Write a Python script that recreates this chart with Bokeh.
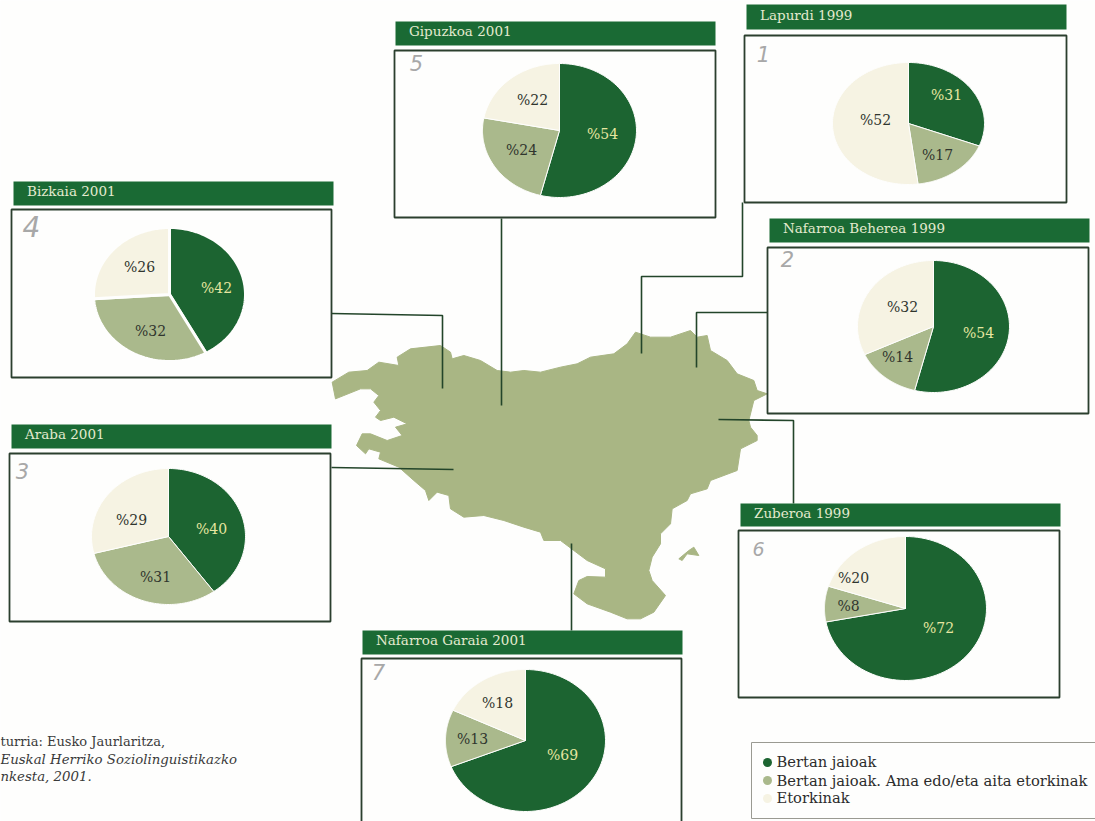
import numpy as np
from bokeh.embed import file_html
from bokeh.models import Range1d
from bokeh.plotting import figure
from bokeh.resources import INLINE
from bokeh.core.properties import value

# ---- data ----
regions = ["Gipuzkoa 2001", "Lapurdi 1999", "Bizkaia 2001", "Nafarroa Beherea 1999",
           "Araba 2001", "Zuberoa 1999", "Nafarroa Garaia 2001"]
native = [54, 31, 42, 54, 40, 72, 69]
mixed = [24, 17, 32, 14, 31, 8, 13]
migrant = [22, 52, 26, 32, 29, 20, 18]
hand_numbers = ["5", "1", "4", "2", "3", "6", "7"]
legend_labels = ["Bertan jaioak", "Bertan jaioak. Ama edo/eta aita etorkinak", "Etorkinak"]
source_lines = ["turria: Eusko Jaurlaritza,", "Euskal Herriko Soziolinguistikazko", "nkesta, 2001."]

# ---- layout (page pixel coordinates of the reference) ----
DARK, MID, PALE = "#1c6431", "#aab98c", "#f6f3e3"
MAP = "#a9b684"
HEAD = "#1a6a34"
LINE = "#23452a"

pie_c = [(559, 130, 77, 67), (908, 123, 76, 61), (169, 294, 76, 67), (933, 326, 76, 66),
         (168, 536, 77, 68), (905, 608, 81, 72), (525, 740, 80, 71)]
pie_gap = [1, 1, 3, 1, 1, 1, 1]
label_xy = [[(602, 133), (521, 149), (532, 99)],
            [(946, 94), (937, 154), (875, 119)],
            [(216, 287), (150, 330), (139, 266)],
            [(978, 332), (897, 356), (902, 306)],
            [(211, 528), (155, 576), (131, 519)],
            [(938, 627), (848, 605), (853, 577)],
            [(562, 754), (472, 738), (497, 702)]]
heads = [(395, 715, 21, 45), (746, 1066, 4, 29), (13, 333, 181, 205), (769, 1089, 218, 242),
         (11, 331, 424, 448), (740, 1060, 503, 526), (362, 682, 630, 654)]
boxes = [(394, 715, 50, 217), (744, 1066, 35, 202), (11, 331, 209, 377), (767, 1088, 247, 413),
         (9, 330, 453, 621), (738, 1059, 530, 697), (361, 681, 658, 840)]
hand_xy = [(416, 62), (763, 53), (31, 226), (787, 258), (22, 470), (758, 548), (378, 671)]
hand_size = ["21px", "21px", "28px", "21px", "21px", "19px", "21px"]
connectors = [[(501, 218), (501, 405)],
              [(742, 202), (742, 276), (641, 276), (641, 353)],
              [(767, 312), (696, 312), (696, 367)],
              [(331, 313), (442, 315), (442, 388)],
              [(331, 467), (453, 469)],
              [(718, 419), (793, 420), (793, 503)],
              [(571, 543), (571, 630)]]

map_zoom = [(35,185),(85,155),(140,150),(175,125),(235,135),(230,110),(270,85),(360,75),(390,95),(395,115),
            (430,105),(480,120),(530,150),(570,155),(610,150),(660,155),(720,140),(770,130),(810,110),(880,100),
            (920,70),(945,35),(990,50),(1050,50),(1110,30),(1130,50),(1160,45),(1170,90),(1220,120),(1250,160),
            (1300,180),(1310,210),(1340,220),(1300,240),(1285,300),(1290,320),(1310,345),(1310,360),(1260,385),
            (1250,450),(1170,480),(1160,505),(1110,520),(1100,540),(1055,565),(1050,610),(1020,640),(1020,670),
            (995,710),(985,750),(995,780),(1035,825),(1000,875),(960,895),(920,895),(870,875),(800,850),(760,820),
            (775,780),(800,768),(855,770),(855,745),(800,720),(760,690),(720,660),(670,660),(660,635),(610,620),
            (550,600),(490,585),(430,590),(390,565),(385,525),(350,515),(325,540),(315,510),(280,480),(235,440),
            (175,415),(180,395),(145,385),(135,400),(108,375),(125,340),(150,340),(200,360),(245,345),(225,320),
            (260,310),(220,290),(180,300),(165,290),(180,270),(160,245),(175,225),(150,205),(120,205),(70,225),(45,235)]
islet_zoom = [(1075,715),(1105,690),(1120,680),(1135,705),(1100,700),(1085,720)]

W, H = 1095, 821
p = figure(width=W, height=H, x_range=Range1d(0, W), y_range=Range1d(H, 0),
           output_backend="svg", toolbar_location=None, min_border=0)
p.axis.visible = False
p.grid.visible = False
p.outline_line_color = None
p.background_fill_color = "#fefefd"
p.border_fill_color = "#fefefd"

SERIF = value("DejaVu Serif")

# map
for shape in (map_zoom, islet_zoom):
    p.patch([320 + a / 3 for a, _ in shape], [320 + b / 3 for _, b in shape], fill_color=MAP, line_color=MAP)

# connectors
for c in connectors:
    p.line([a for a, _ in c], [b for _, b in c], line_color=LINE, line_width=1.6)

# panels
for name, (x0, x1, y0, y1), (bx0, bx1, by0, by1), hand, (hx, hy), hs in zip(
        regions, heads, boxes, hand_numbers, hand_xy, hand_size):
    p.quad(left=bx0, right=bx1, top=by0, bottom=by1, fill_color="#fefefd", line_color="#2b3f2e", line_width=1.8)
    p.quad(left=x0, right=x1, top=y0, bottom=y1, fill_color=HEAD, line_color=None)
    p.text([x0 + 13.5], [(y0 + y1) / 2 - 2.5], text=[name], text_color="#e4ebcf", text_font=SERIF,
           text_font_size="13.5px", text_baseline="middle")
    p.text([hx], [hy], text=[hand], text_color="#a8a8a8", text_font=value("DejaVu Sans"),
           text_font_size=hs, text_font_style="italic", text_align="center", text_baseline="middle")

# pies
for (cx, cy, rx, ry), gap, parts, labels_at in zip(pie_c, pie_gap, zip(native, mixed, migrant), label_xy):
    total = sum(parts)
    start = 0.0
    for val, col in zip(parts, (DARK, MID, PALE)):
        end = start + val / total * 2 * np.pi
        t = np.linspace(start, end, 90)
        xs = np.r_[cx, cx + rx * np.sin(t)]
        ys = np.r_[cy, cy - ry * np.cos(t)]
        p.patch(xs, ys, fill_color=col, line_color="#fefefd", line_width=gap)
        start = end
    for val, col, (lx, ly) in zip(parts, ("#e6e6a0", "#30352e", "#30352e"), labels_at):
        p.text([lx], [ly], text=[f"%{val}"], text_color=col, text_font=SERIF, text_font_size="14px",
               text_align="center", text_baseline="middle")

# legend
p.quad(left=751, right=1100, top=742, bottom=818, fill_color="#fefefd", line_color="#9a9a92", line_width=1)
for y, ty, col, lab in zip((762, 780, 798), (761, 780, 797), (DARK, MID, PALE), legend_labels):
    p.scatter([767], [y], size=9, fill_color=col, line_color=None)
    p.text([776], [ty], text=[lab], text_color="#2c2c2c", text_font=SERIF, text_font_size="14.7px",
           text_baseline="middle")

# source
for y, line, style, size in zip((741, 759, 776), source_lines, ("normal", "italic", "italic"),
                                ("13px", "13.3px", "13.3px")):
    p.text([0], [y], text=[line], text_color="#3a3a3a", text_font=SERIF, text_font_size=size,
           text_font_style=style, text_baseline="middle")

open("out.html", "w").write(file_html(p, INLINE))
